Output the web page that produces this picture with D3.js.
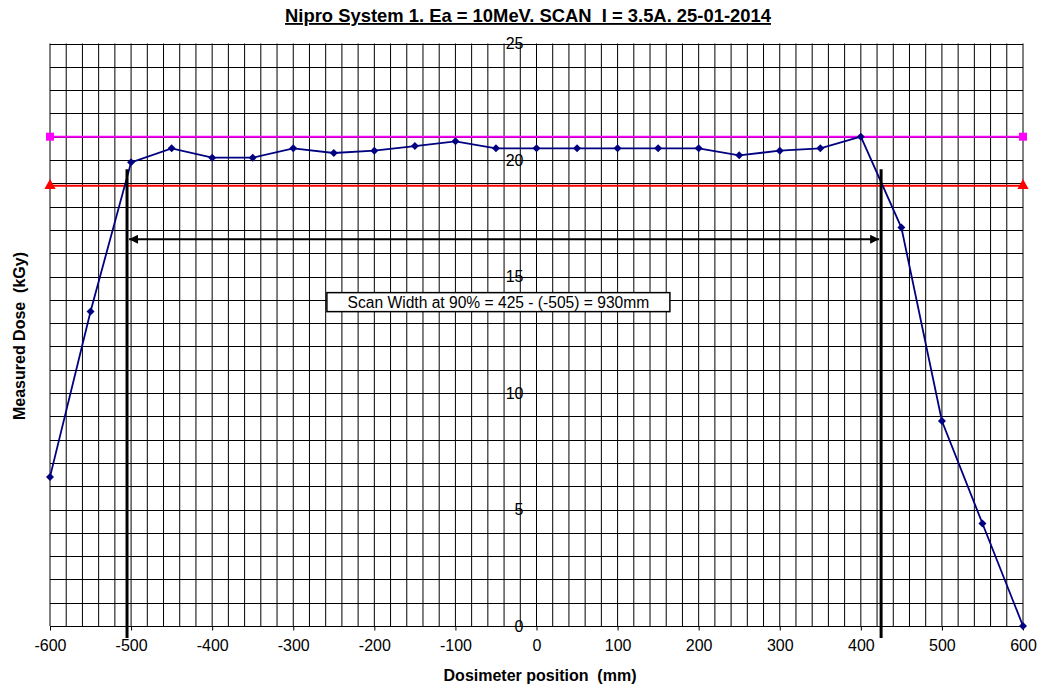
<!DOCTYPE html>
<html>
<head>
<meta charset="utf-8">
<script src="https://cdn.jsdelivr.net/npm/d3@7"></script>
<style>
  html, body { margin: 0; padding: 0; background: #fff; }
  svg { display: block; font-family: "Liberation Sans", Arial, sans-serif; }
  text { white-space: pre; }
</style>
</head>
<body>
<svg id="chart" width="1040" height="690"></svg>
<script>
// Dose profile across the scan (positions in mm, dose in kGy)
const positions = [-600, -550, -500, -450, -400, -350, -300, -250, -200, -150, -100, -50,
                   0, 50, 100, 150, 200, 250, 300, 350, 400, 450, 500, 550, 600];
const doses = [6.4, 13.5, 19.9, 20.5, 20.1, 20.1, 20.5, 20.3, 20.4, 20.6, 20.8, 20.5,
               20.5, 20.5, 20.5, 20.5, 20.5, 20.2, 20.4, 20.5, 21.0, 17.1, 8.8, 4.4, 0];

// Reference levels: maximum dose and 90% of maximum
const maxLevel = 21.0;
const level90 = 18.9;

// Scan width edges at the 90% level
const edgeLeft = -505;
const edgeRight = 425;
const edgeTop = 19.6;
const arrowLevel = 16.6;

const xTicks = [-600, -500, -400, -300, -200, -100, 0, 100, 200, 300, 400, 500, 600];
const yTicks = [0, 5, 10, 15, 20, 25];

const titleText = "Nipro System 1. Ea = 10MeV. SCAN  I = 3.5A. 25-01-2014";
const xTitle = "Dosimeter position  (mm)";
const yTitle = "Measured Dose  (kGy)";
const noteText = "Scan Width at 90% = 425 - (-505) = 930mm";

const svg = d3.select("#chart");
const x = d3.scaleLinear().domain([-600, 600]).range([50, 1023]);
const y = d3.scaleLinear().domain([0, 25]).range([626, 43.5]);
const FONT = "Liberation Sans, Arial, sans-serif";

// Grid: vertical every 20 mm, horizontal every 1 kGy
const grid = svg.append("g");
grid.selectAll("line.v").data(d3.range(-600, 601, 20)).join("line")
  .attr("class", "v")
  .attr("x1", d => x(d)).attr("x2", d => x(d))
  .attr("y1", y(25)).attr("y2", y(0))
  .attr("stroke", "#000").attr("stroke-width", 1);
grid.selectAll("line.h").data(d3.range(0, 26, 1)).join("line")
  .attr("class", "h")
  .attr("x1", x(-600)).attr("x2", x(600))
  .attr("y1", d => Math.round(y(d)) + 0.5).attr("y2", d => Math.round(y(d)) + 0.5)
  .attr("stroke", "#000").attr("stroke-width", 1);

// X axis along the bottom
const xAxis = d3.axisBottom(x).tickValues(xTicks).tickSize(4).tickFormat(d => String(d));
const gx = svg.append("g").attr("transform", `translate(0,${Math.round(y(0)) + 0.5})`).call(xAxis);
gx.select(".domain").remove();
gx.selectAll(".tick line").attr("stroke", "#000");
gx.selectAll(".tick text").attr("font-size", 16).attr("fill", "#000")
  .attr("font-family", FONT).attr("y", 24).attr("dy", 0);

// Y axis labels sit along the zero-position line
const yAxis = d3.axisLeft(y).tickValues(yTicks).tickSize(0).tickPadding(13).tickFormat(d => String(d));
const gy = svg.append("g").attr("transform", `translate(${x(0)},0)`).call(yAxis);
gy.select(".domain").remove();
gy.selectAll(".tick text").attr("font-size", 16).attr("fill", "#000")
  .attr("font-family", FONT);

// Maximum level (magenta) with square end markers
svg.append("line")
  .attr("x1", x(-600)).attr("x2", x(600)).attr("y1", y(maxLevel)).attr("y2", y(maxLevel))
  .attr("stroke", "#ff00ff").attr("stroke-width", 2);
svg.selectAll("rect.mk").data([-600, 600]).join("rect")
  .attr("class", "mk")
  .attr("x", d => x(d) - 4).attr("y", y(maxLevel) - 4).attr("width", 8).attr("height", 8)
  .attr("fill", "#ff00ff");

// 90% level (red) with triangle end markers
svg.append("line")
  .attr("x1", x(-600)).attr("x2", x(600)).attr("y1", y(level90)).attr("y2", y(level90))
  .attr("stroke", "#ff0000").attr("stroke-width", 2);
const tri = d3.symbol().type(d3.symbolTriangle).size(55);
svg.selectAll("path.tri").data([-600, 600]).join("path")
  .attr("class", "tri")
  .attr("d", tri)
  .attr("transform", d => `translate(${x(d)},${y(level90)})`)
  .attr("fill", "#ff0000");

// Dose profile line and diamond markers
const data = positions.map((p, i) => ({ p, v: doses[i] }));
const line = d3.line().x(d => x(d.p)).y(d => y(d.v));
svg.append("path").datum(data)
  .attr("d", line).attr("fill", "none")
  .attr("stroke", "#000080").attr("stroke-width", 1.8);
svg.selectAll("path.pt").data(data).join("path")
  .attr("class", "pt")
  .attr("d", "M0,-4L4,0L0,4L-4,0Z")
  .attr("transform", d => `translate(${x(d.p)},${y(d.v)})`)
  .attr("fill", "#000080");

// Scan width edges
svg.selectAll("line.edge").data([edgeLeft, edgeRight]).join("line")
  .attr("class", "edge")
  .attr("x1", d => x(d)).attr("x2", d => x(d))
  .attr("y1", y(edgeTop)).attr("y2", y(0) + 12)
  .attr("stroke", "#000").attr("stroke-width", 3);

// Double-headed arrow between edges
const defs = svg.append("defs");
defs.append("marker").attr("id", "ah")
  .attr("viewBox", "0 0 10 10").attr("refX", 10).attr("refY", 5)
  .attr("markerWidth", 5).attr("markerHeight", 4.5)
  .attr("markerUnits", "strokeWidth")
  .attr("orient", "auto-start-reverse")
  .append("path").attr("d", "M0,0 L10,5 L0,10 Z").attr("fill", "#000");
svg.append("line")
  .attr("x1", x(edgeLeft) + 2).attr("x2", x(edgeRight) - 2)
  .attr("y1", y(arrowLevel)).attr("y2", y(arrowLevel))
  .attr("stroke", "#000").attr("stroke-width", 2)
  .attr("marker-start", "url(#ah)").attr("marker-end", "url(#ah)");

// Annotation box
const noteX = -47, noteY = 13.9;
const note = svg.append("g").attr("transform", `translate(${x(noteX)},${y(noteY)})`);
note.append("rect").attr("x", -171.5).attr("y", -9.5).attr("width", 343).attr("height", 19)
  .attr("fill", "#fff").attr("stroke", "#000").attr("stroke-width", 1.5);
note.append("text").attr("text-anchor", "middle").attr("dy", "0.36em")
  .attr("font-size", 15.6).text(noteText);

// Title and axis titles
svg.append("text").attr("x", 528).attr("y", 22)
  .attr("text-anchor", "middle").attr("font-size", 18.4).attr("font-weight", "bold")
  .attr("text-decoration", "underline").text(titleText);

svg.append("text").attr("x", 540).attr("y", 681)
  .attr("text-anchor", "middle").attr("font-size", 16).attr("font-weight", "bold")
  .text(xTitle);
svg.append("text").attr("transform", "translate(25,336) rotate(-90)")
  .attr("text-anchor", "middle").attr("font-size", 16).attr("font-weight", "bold")
  .text(yTitle);
</script>
</body>
</html>
